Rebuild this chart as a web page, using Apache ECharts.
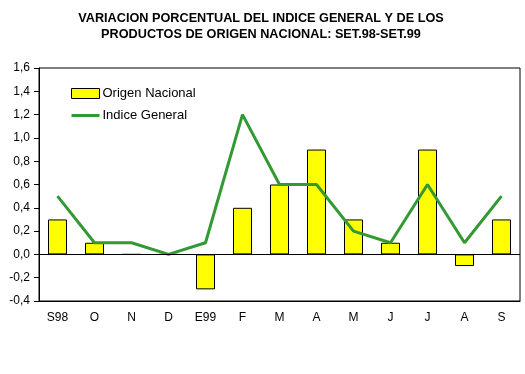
<!DOCTYPE html>
<html>
<head>
<meta charset="utf-8">
<script src="https://cdn.jsdelivr.net/npm/echarts@6/dist/echarts.min.js"></script>
<style>html,body{margin:0;padding:0;background:#fff;}#c{width:525px;height:374px;}</style>
</head>
<body>
<div id="c"></div>
<script>
var categories = ['S98','O','N','D','E99','F','M','A','M','J','J','A','S'];
var origenNacional = [0.3, 0.1, 0, 0, -0.3, 0.4, 0.6, 0.9, 0.3, 0.1, 0.9, -0.1, 0.3];
var indiceGeneral = [0.5, 0.1, 0.1, 0.0, 0.1, 1.2, 0.6, 0.6, 0.2, 0.1, 0.6, 0.1, 0.5];
var titleLines = ['VARIACION PORCENTUAL DEL INDICE GENERAL Y DE LOS', 'PRODUCTOS DE ORIGEN NACIONAL: SET.98-SET.99'];

var FONT = 'Liberation Sans, Arial, sans-serif';
var chart = echarts.init(document.getElementById('c'), null, {renderer: 'canvas'});
chart.setOption({
  animation: false,
  backgroundColor: '#ffffff',
  title: {
    text: titleLines.join('\n'),
    left: 256, textAlign: 'center', top: 5,
    textStyle: {fontFamily: FONT, fontSize: 12.7, fontWeight: 'bold', color: '#000', lineHeight: 16}
  },
  legend: {
    orient: 'vertical', left: 65, top: 82,
    itemWidth: 28, itemHeight: 10, itemGap: 9,
    textStyle: {fontFamily: FONT, fontSize: 13, color: '#000', padding: [0, 0, 0, -2]},
    data: [
      {name: 'Origen Nacional', icon: 'rect', itemStyle: {color: '#ffff00', borderColor: '#000', borderWidth: 1}},
      {name: 'Indice General', itemStyle: {opacity: 0}, lineStyle: {color: '#339933', width: 3}}
    ]
  },
  grid: {left: 39, right: 5, top: 68, bottom: 73, show: true, borderColor: '#000', borderWidth: 1, backgroundColor: 'transparent'},
  xAxis: {
    type: 'category', data: categories,
    axisLine: {show: true, onZero: false, lineStyle: {color: '#000', width: 1}},
    axisTick: {show: false},
    axisLabel: {color: '#000', fontFamily: FONT, fontSize: 12, margin: 11}
  },
  yAxis: {
    type: 'value', min: -0.4, max: 1.6, interval: 0.2,
    axisLine: {show: true, lineStyle: {color: '#000', width: 1}},
    axisTick: {show: true, inside: false, length: 5, lineStyle: {color: '#000'}},
    splitLine: {show: false},
    axisLabel: {color: '#000', fontFamily: FONT, fontSize: 12, margin: 9,
      formatter: function (v) { return (Math.round(v * 10) / 10).toFixed(1).replace('.', ','); }}
  },
  series: [
    {
      name: 'Origen Nacional', type: 'bar', data: origenNacional, barWidth: 19,
      itemStyle: {color: '#ffff00', borderColor: '#000', borderWidth: 1},
      markLine: {
        silent: true, symbol: 'none', label: {show: false},
        lineStyle: {color: '#000', width: 1, type: 'solid'},
        data: [{yAxis: 0}]
      }
    },
    {
      name: 'Indice General', type: 'line', data: indiceGeneral,
      symbol: 'none', lineStyle: {color: '#339933', width: 3}, itemStyle: {color: '#339933'}, z: 3
    }
  ]
});
</script>
</body>
</html>
